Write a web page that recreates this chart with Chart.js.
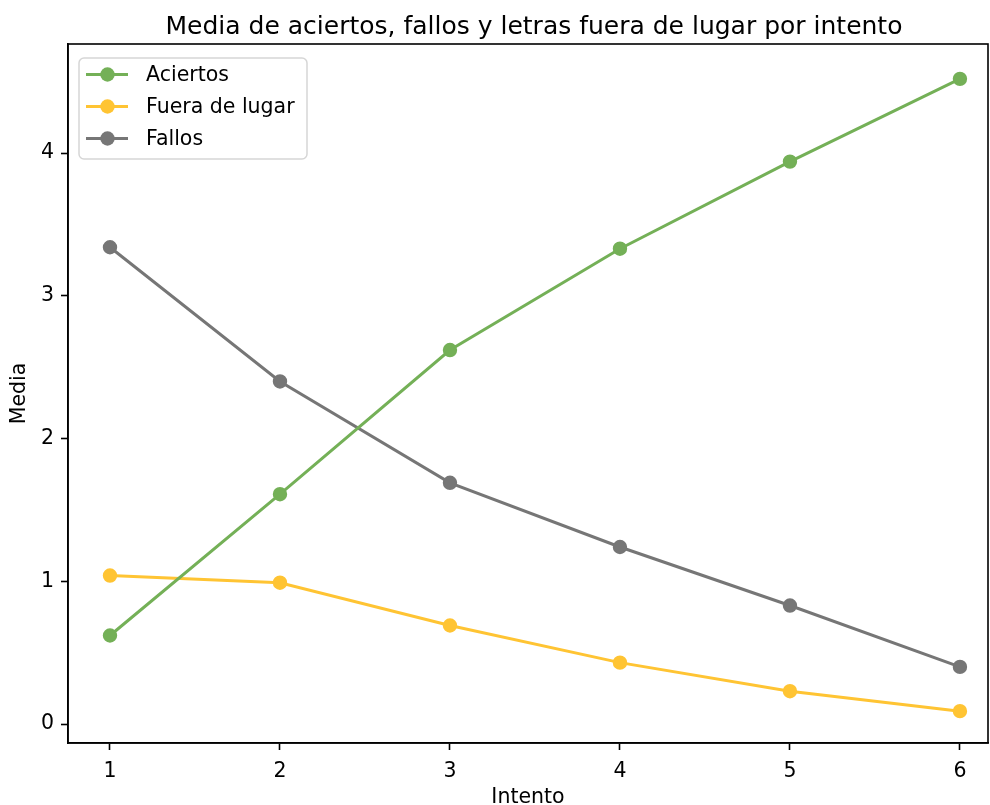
<!DOCTYPE html>
<html>
<head>
<meta charset="utf-8">
<title>Media por intento</title>
<script src="https://cdn.jsdelivr.net/npm/chart.js@4.4.1/dist/chart.umd.min.js"></script>
<style>
  html, body { margin: 0; padding: 0; background: #fff; }
  #wrap { width: 990px; height: 805px; }
</style>
</head>
<body>
<div id="wrap"><canvas id="chart" width="990" height="805"></canvas></div>
<script>
"use strict";

// Datos
var intentos = [1, 2, 3, 4, 5, 6];
var aciertos = [0.62, 1.61, 2.62, 3.33, 3.94, 4.52];
var fueraDeLugar = [1.04, 0.99, 0.69, 0.43, 0.23, 0.09];
var fallos = [3.34, 2.40, 1.69, 1.24, 0.83, 0.40];
var yTicks = [0, 1, 2, 3, 4];
var titulo = 'Media de aciertos, fallos y letras fuera de lugar por intento';

var FONT = "'DejaVu Sans', sans-serif";
var FS = 20.5;

function serie(label, values, color) {
    return {
        label: label,
        data: intentos.map(function (x, i) { return { x: x, y: values[i] }; }),
        borderColor: color,
        backgroundColor: color,
        borderWidth: 3,
        pointRadius: 6.2,
        pointBorderWidth: 2,
        pointHoverRadius: 6.2,
        pointBackgroundColor: color,
        pointBorderColor: color,
        tension: 0,
        fill: false
    };
}

// Marco completo del área de ejes (los 4 lados) y título sobre él
var frame = {
    id: 'frame',
    afterDatasetsDraw: function (chart) {
        var a = chart.chartArea, ctx = chart.ctx;
        ctx.save();
        ctx.strokeStyle = '#000';
        ctx.lineWidth = 1.6;
        ctx.strokeRect(a.left, a.top, a.right - a.left, a.bottom - a.top);
        ctx.fillStyle = '#000';
        ctx.font = '25px ' + FONT;
        ctx.textAlign = 'center';
        ctx.textBaseline = 'alphabetic';
        ctx.fillText(titulo, (a.left + a.right) / 2 + 6, a.top - 10);
        ctx.restore();
    }
};

// Leyenda dentro del área, arriba a la izquierda
var innerLegend = {
    id: 'innerLegend',
    afterDraw: function (chart) {
        var a = chart.chartArea, ctx = chart.ctx;
        var x0 = a.left + 11, y0 = a.top + 14, w = 228, h = 101, r = 5;
        ctx.save();
        ctx.beginPath();
        ctx.roundRect(x0, y0, w, h, r);
        ctx.fillStyle = 'rgba(255,255,255,0.8)';
        ctx.fill();
        ctx.strokeStyle = '#d6d6d6';
        ctx.lineWidth = 1.5;
        ctx.stroke();
        ctx.font = FS + 'px ' + FONT;
        ctx.textBaseline = 'middle';
        chart.data.datasets.forEach(function (ds, i) {
            var cy = y0 + 16.5 + i * 32;
            ctx.strokeStyle = ds.borderColor;
            ctx.lineWidth = 3;
            ctx.beginPath();
            ctx.moveTo(x0 + 7, cy);
            ctx.lineTo(x0 + 49, cy);
            ctx.stroke();
            ctx.beginPath();
            ctx.arc(x0 + 28.5, cy, 7.2, 0, Math.PI * 2);
            ctx.fillStyle = ds.borderColor;
            ctx.fill();
            ctx.fillStyle = '#000';
            ctx.fillText(ds.label, x0 + 67, cy + 1);
        });
        ctx.restore();
    }
};

var ctx = document.getElementById('chart').getContext('2d');
var chart = new Chart(ctx, {
    type: 'line',
    data: {
        datasets: [
            serie('Aciertos', aciertos, '#74b057'),
            serie('Fuera de lugar', fueraDeLugar, '#ffc433'),
            serie('Fallos', fallos, '#767676')
        ]
    },
    options: {
        responsive: false,
        animation: false,
        devicePixelRatio: 1,
        layout: { autoPadding: false, padding: { left: 0, right: 2, top: 44, bottom: 0 } },
        plugins: {
            legend: { display: false },
            tooltip: { enabled: false },
            title: { display: false }
        },
        scales: {
            x: {
                type: 'linear',
                min: 0.753,
                max: 6.165,
                afterBuildTicks: function (scale) {
                    scale.ticks = intentos.map(function (v) { return { value: v }; });
                },
                afterFit: function (scale) {
                    scale.height = 62;
                    scale.paddingLeft = 0;
                    scale.paddingRight = 0;
                },
                grid: {
                    display: true, drawOnChartArea: false, drawTicks: true,
                    tickLength: 7, tickWidth: 1.6, tickColor: '#000'
                },
                border: { display: true, color: '#000', width: 1.6 },
                ticks: { color: '#000', font: { family: FONT, size: FS }, padding: 9, maxRotation: 0 },
                title: {
                    display: true, text: 'Intento', color: '#000',
                    font: { family: FONT, size: FS, lineHeight: 0.75 }, padding: 0
                }
            },
            y: {
                type: 'linear',
                min: -0.133,
                max: 4.764,
                afterBuildTicks: function (scale) {
                    scale.ticks = yTicks.map(function (v) { return { value: v }; });
                },
                afterFit: function (scale) {
                    scale.width = 68;
                    scale.paddingTop = 0;
                    scale.paddingBottom = 0;
                },
                grid: {
                    display: true, drawOnChartArea: false, drawTicks: true,
                    tickLength: 7, tickWidth: 1.6, tickColor: '#000'
                },
                border: { display: true, color: '#000', width: 1.6 },
                ticks: { color: '#000', font: { family: FONT, size: FS }, padding: 7 },
                title: {
                    display: true, text: 'Media', color: '#000',
                    font: { family: FONT, size: FS, lineHeight: 1.2 }, padding: { top: 7 }
                }
            }
        }
    },
    plugins: [frame, innerLegend]
});
</script>
</body>
</html>
